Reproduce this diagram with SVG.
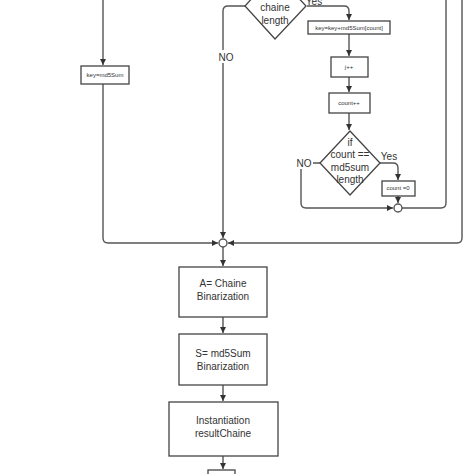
<svg xmlns="http://www.w3.org/2000/svg" width="474" height="474" viewBox="0 0 474 474">
<defs>
<marker id="arr" markerUnits="userSpaceOnUse" markerWidth="7" markerHeight="7" refX="6" refY="3" orient="auto">
<path d="M0,0 L6,3 L0,6 z" fill="#333"/>
</marker>
<style>
.ln{fill:none;stroke:#555;stroke-width:1.4}
.bx{fill:#fff;stroke:#444;stroke-width:1.3}
.t{font-family:"Liberation Sans",Arial,sans-serif;font-size:10px;fill:#333;text-anchor:middle}
.s{font-family:"Liberation Sans",Arial,sans-serif;font-size:6px;fill:#333;text-anchor:middle}
.lb{fill:#fff}
</style>
</defs>
<rect width="474" height="474" fill="#fff"/>
<g id="connectors">
<path class="ln" d="M103,0 V65" marker-end="url(#arr)"/>
<path class="ln" d="M103,84 V238 Q103,243 108,243 H218" marker-end="url(#arr)"/>
<path class="ln" d="M462,0 V238 Q462,243 457,243 H228" marker-end="url(#arr)"/>
<path class="ln" d="M245,6 H228 Q223,6 223,11 V238" marker-end="url(#arr)"/>
<path class="ln" d="M223,247 V266" marker-end="url(#arr)"/>
<path class="ln" d="M223,317 V333" marker-end="url(#arr)"/>
<path class="ln" d="M223,385 V401" marker-end="url(#arr)"/>
<path class="ln" d="M223,456 V469" marker-end="url(#arr)"/>
<path class="ln" d="M307,6 H344 Q349,6 349,11 V20" marker-end="url(#arr)"/>
<path class="ln" d="M349,34 V56" marker-end="url(#arr)"/>
<path class="ln" d="M349,77 V92" marker-end="url(#arr)"/>
<path class="ln" d="M349,113 V130" marker-end="url(#arr)"/>
<path class="ln" d="M320,163 H306 Q301,163 301,168 V203 Q301,208 306,208 H393" marker-end="url(#arr)"/>
<path class="ln" d="M380,163 H393 Q398,163 398,168 V180" marker-end="url(#arr)"/>
<path class="ln" d="M398,196 V203" marker-end="url(#arr)"/>
<path class="ln" d="M402,208 H441 Q446,208 446,203 V0"/>
<circle class="ln" cx="223" cy="243" r="4" style="fill:#fff"/>
<circle class="ln" cx="398" cy="208" r="4" style="fill:#fff"/>
<rect class="lb" x="217" y="50" width="18" height="13"/>
<text class="t" x="226" y="61">NO</text>
<rect class="lb" x="296" y="157" width="17" height="12"/>
<text class="t" x="304" y="167">NO</text>
<rect class="lb" x="304" y="-6" width="20" height="10"/>
<text class="t" x="314" y="5">Yes</text>
<rect class="lb" x="380" y="151" width="19" height="10"/>
<text class="t" x="389" y="160">Yes</text>
</g>
<g id="n-keymd5">
<rect class="bx" x="81" y="66" width="48" height="18"/>
<text class="s" x="105" y="77">key=md5Sum</text>
</g>
<g id="n-d1">
<polygon class="bx" points="275,-27 306,6 275,39 245,6"/>
<text class="t" x="275" y="11">chaine</text>
<text class="t" x="275" y="24">length</text>
</g>
<g id="n-keykey">
<rect class="bx" x="308" y="21" width="82" height="13"/>
<text class="s" x="349" y="30">key=key+md5Sum[count]</text>
</g>
<g id="n-jpp">
<rect class="bx" x="331" y="57" width="37" height="20"/>
<text class="s" x="349" y="69">j++</text>
</g>
<g id="n-countpp">
<rect class="bx" x="329" y="93" width="41" height="20"/>
<text class="s" x="349" y="105">count++</text>
</g>
<g id="n-d2">
<polygon class="bx" points="350,131 380,163 350,195 320,163"/>
<text class="t" x="350" y="146">if</text>
<text class="t" x="350" y="158">count ==</text>
<text class="t" x="350" y="171">md5sum</text>
<text class="t" x="350" y="183">length</text>
</g>
<g id="n-count0">
<rect class="bx" x="382" y="181" width="33" height="15"/>
<text class="s" x="398" y="190">count =0</text>
</g>
<g id="n-a">
<rect class="bx" x="179" y="267" width="88" height="50"/>
<text class="t" x="223" y="287">A= Chaine</text>
<text class="t" x="223" y="300">Binarization</text>
</g>
<g id="n-s">
<rect class="bx" x="179" y="334" width="88" height="51"/>
<text class="t" x="223" y="357">S= md5Sum</text>
<text class="t" x="223" y="370">Binarization</text>
</g>
<g id="n-inst">
<rect class="bx" x="169" y="402" width="109" height="54"/>
<text class="t" x="223" y="424">Instantiation</text>
<text class="t" x="223" y="437">resultChaine</text>
</g>
<g id="n-next">
<rect class="bx" x="208" y="470" width="27" height="10"/>
</g>
</svg>
